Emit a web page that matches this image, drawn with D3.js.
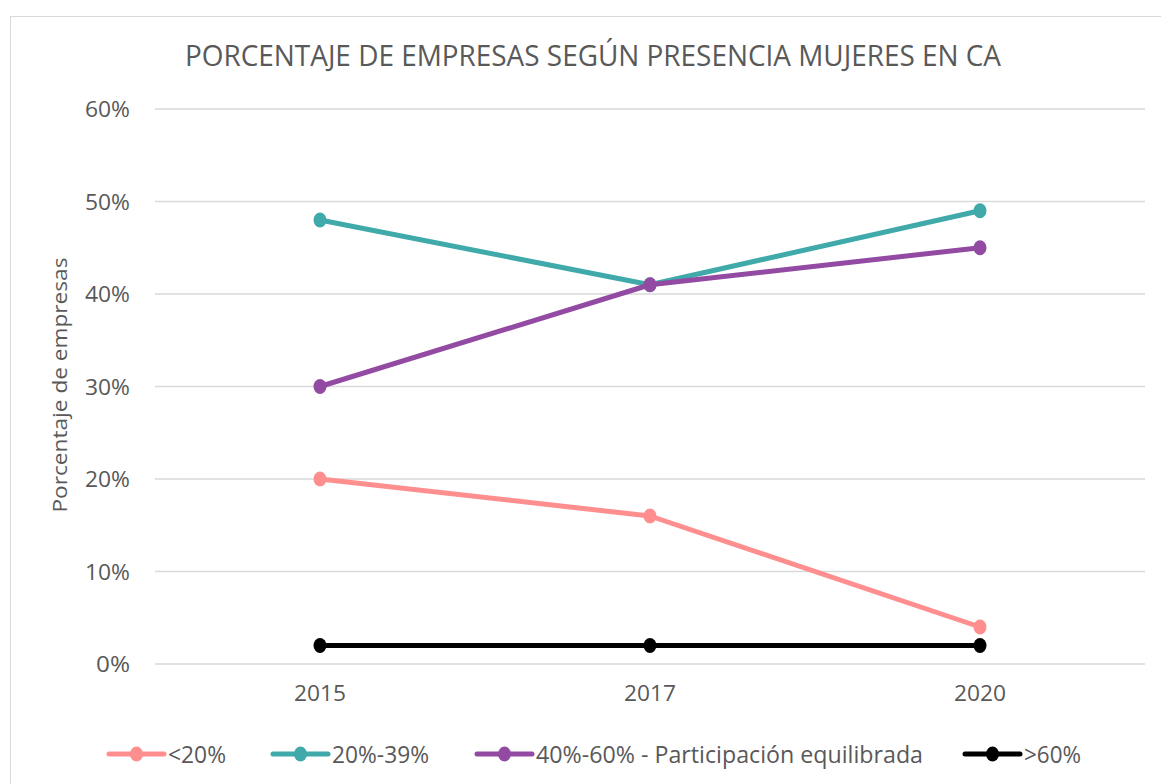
<!DOCTYPE html>
<html>
<head>
<meta charset="utf-8">
<script src="https://cdn.jsdelivr.net/npm/d3@7"></script>
<style>
  body { margin: 0; background: #fff; }
  text { font-family: "Open Sans", "Noto Sans", sans-serif; fill: #595959; }
</style>
</head>
<body>
<div id="chart"></div>
<script>
const years = ['2015', '2017', '2020'];
const seriesNames = ['<20%', '20%-39%', '40%-60% - Participación equilibrada', '>60%'];
const low = [20, 16, 4];
const mid = [48, 41, 49];
const balanced = [30, 41, 45];
const high = [2, 2, 2];
const yTicks = [0, 10, 20, 30, 40, 50, 60];
const colors = ['#ff8f8f', '#40a9aa', '#934aa3', '#000000'];

const w = 1161, h = 784;
const padL = 155, padR = 1145, padT = 109, padB = 664;

const svg = d3.select('#chart')
  .append('svg')
  .attr('width', w)
  .attr('height', h);

svg.append('rect')
  .attr('x', 10.5).attr('y', 16.5)
  .attr('width', 1200).attr('height', 800)
  .attr('fill', '#fff')
  .attr('stroke', '#d9d9d9');

const xScale = d3.scaleBand().domain(years).range([padL, padR]);
const yScale = d3.scaleLinear().domain([0, 60]).range([padB, padT]);

svg.append('text')
  .attr('x', 185).attr('y', 66)
  .attr('textLength', 816)
  .attr('lengthAdjust', 'spacingAndGlyphs')
  .style('font-size', '29px')
  .text('PORCENTAJE DE EMPRESAS SEGÚN PRESENCIA MUJERES EN CA');

// grid
svg.append('g')
  .selectAll('line')
  .data(yTicks)
  .enter()
  .append('line')
  .attr('x1', padL).attr('x2', padR)
  .attr('y1', d => yScale(d)).attr('y2', d => yScale(d))
  .attr('stroke', '#d9d9d9')
  .attr('stroke-width', 1.5);

const yAxis = d3.axisLeft(yScale).tickValues(yTicks).tickFormat(d => d + '%').tickSize(0).tickPadding(25);
const gy = svg.append('g')
  .attr('transform', `translate(${padL}, 0)`)
  .call(yAxis);
gy.select('.domain').remove();
gy.selectAll('text')
  .style('font-size', '21px')
  .style('font-family', '"Open Sans", sans-serif')
  .attr('fill', '#595959')
  .attr('dy', '0.36em')
  .attr('textLength', d => d === 0 ? 34 : 45)
  .attr('lengthAdjust', 'spacingAndGlyphs');

const xAxis = d3.axisBottom(xScale).tickSize(0).tickPadding(22);
const gx = svg.append('g')
  .attr('transform', `translate(0, ${padB})`)
  .call(xAxis);
gx.select('.domain').remove();
gx.selectAll('text')
  .style('font-size', '21px')
  .style('font-family', '"Open Sans", sans-serif')
  .attr('fill', '#595959')
  .attr('textLength', 52)
  .attr('lengthAdjust', 'spacingAndGlyphs');

svg.append('text')
  .attr('transform', `translate(67, 385) rotate(-90)`)
  .attr('text-anchor', 'middle')
  .attr('textLength', 255)
  .attr('lengthAdjust', 'spacingAndGlyphs')
  .style('font-size', '20px')
  .text('Porcentaje de empresas');

const allSeries = [low, mid, balanced, high];
const cx = d => xScale(d) + xScale.bandwidth() / 2;
const line = d3.line()
  .x((d, i) => cx(years[i]))
  .y(d => yScale(d));

allSeries.forEach((values, s) => {
  const g = svg.append('g');
  g.append('path')
    .datum(values)
    .attr('d', line)
    .attr('fill', 'none')
    .attr('stroke', colors[s])
    .attr('stroke-width', 5)
    .attr('stroke-linejoin', 'round');
  g.selectAll('ellipse')
    .data(values)
    .enter()
    .append('ellipse')
    .attr('cx', (d, i) => cx(years[i]))
    .attr('cy', d => yScale(d))
    .attr('rx', 6.5).attr('ry', 7.5)
    .attr('fill', colors[s]);
});

// legend
const legendX = [109, 273, 477, 965];
const legendW = [58, 97, 387, 57];
const legend = svg.append('g')
  .selectAll('g')
  .data(seriesNames)
  .enter()
  .append('g')
  .attr('transform', (d, i) => `translate(${legendX[i]}, 754)`);
legend.append('line')
  .attr('x1', 0).attr('x2', 55)
  .attr('stroke', (d, i) => colors[i])
  .attr('stroke-width', 5)
  .attr('stroke-linecap', 'round');
legend.append('ellipse')
  .attr('cx', 27.5).attr('rx', 6.5).attr('ry', 7.5)
  .attr('fill', (d, i) => colors[i]);
legend.append('text')
  .attr('x', 59).attr('y', 9)
  .attr('textLength', (d, i) => legendW[i])
  .attr('lengthAdjust', 'spacingAndGlyphs')
  .style('font-size', '24px')
  .text(d => d);
</script>
</body>
</html>
